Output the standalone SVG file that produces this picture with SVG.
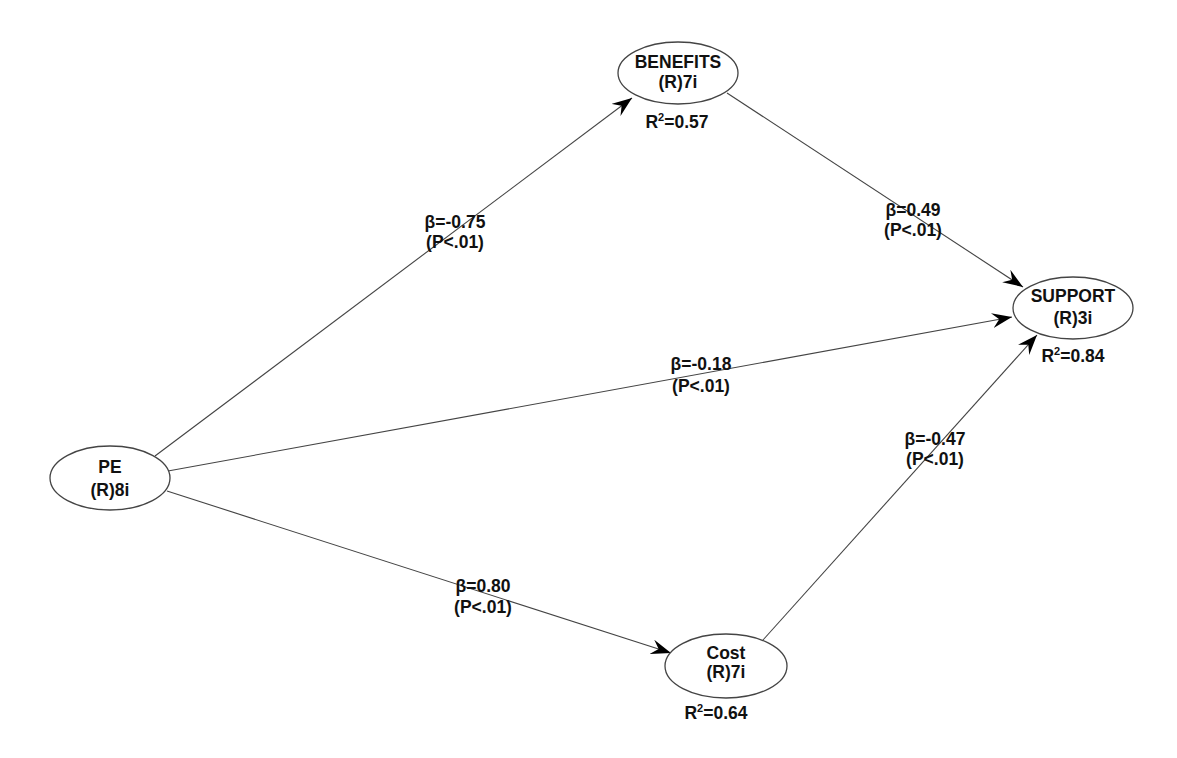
<svg xmlns="http://www.w3.org/2000/svg" width="1177" height="758" viewBox="0 0 1177 758">
<style>
.bg{fill:#fff}
.node ellipse{fill:#fff;stroke:#444;stroke-width:1.3}
text{font-family:"Liberation Sans",Arial,sans-serif;font-weight:bold;font-size:17.5px;fill:#111;text-anchor:middle}
.edge{stroke:#444;stroke-width:1.1;fill:none}
.sup{font-size:11px}
</style>
<defs>
<marker id="arr" markerUnits="userSpaceOnUse" markerWidth="21" markerHeight="15" refX="20" refY="7.5" orient="auto">
<path d="M0,0 L20,7.5 L0,15 L7,7.5 z" fill="#000"/>
</marker>
</defs>
<rect class="bg" width="1177" height="758"/>
<g id="connectors">
<line class="edge" x1="155" y1="456" x2="632" y2="98" marker-end="url(#arr)"/>
<line class="edge" x1="727" y1="93" x2="1023" y2="287" marker-end="url(#arr)"/>
<line class="edge" x1="168" y1="471" x2="1012" y2="317" marker-end="url(#arr)"/>
<line class="edge" x1="167" y1="491" x2="671" y2="653" marker-end="url(#arr)"/>
<line class="edge" x1="763" y1="640" x2="1037" y2="335" marker-end="url(#arr)"/>
<text x="455" y="228">β=-0.75</text><text x="455" y="248">(P&lt;.01)</text>
<text x="913" y="216">β=0.49</text><text x="913" y="236">(P&lt;.01)</text>
<text x="701" y="370">β=-0.18</text><text x="701" y="392">(P&lt;.01)</text>
<text x="935" y="445">β=-0.47</text><text x="935" y="465">(P&lt;.01)</text>
<text x="483" y="592">β=0.80</text><text x="483" y="613">(P&lt;.01)</text>
</g>
<g id="benefits" class="node">
<ellipse cx="678" cy="73" rx="60" ry="31"/>
<text x="678" y="68">BENEFITS</text>
<text x="678" y="88">(R)7i</text>
<text x="677" y="128">R<tspan class="sup" dy="-7">2</tspan><tspan dy="7">=0.57</tspan></text>
</g>
<g id="support" class="node">
<ellipse cx="1073" cy="308" rx="60" ry="31"/>
<text x="1073" y="302">SUPPORT</text>
<text x="1073" y="324">(R)3i</text>
<text x="1073" y="362">R<tspan class="sup" dy="-7">2</tspan><tspan dy="7">=0.84</tspan></text>
</g>
<g id="pe" class="node">
<ellipse cx="110" cy="478" rx="60" ry="32"/>
<text x="110" y="473">PE</text>
<text x="110" y="496">(R)8i</text>
</g>
<g id="cost" class="node">
<ellipse cx="726" cy="666" rx="61" ry="32"/>
<text x="726" y="659">Cost</text>
<text x="726" y="678">(R)7i</text>
<text x="716" y="719">R<tspan class="sup" dy="-7">2</tspan><tspan dy="7">=0.64</tspan></text>
</g>
</svg>
